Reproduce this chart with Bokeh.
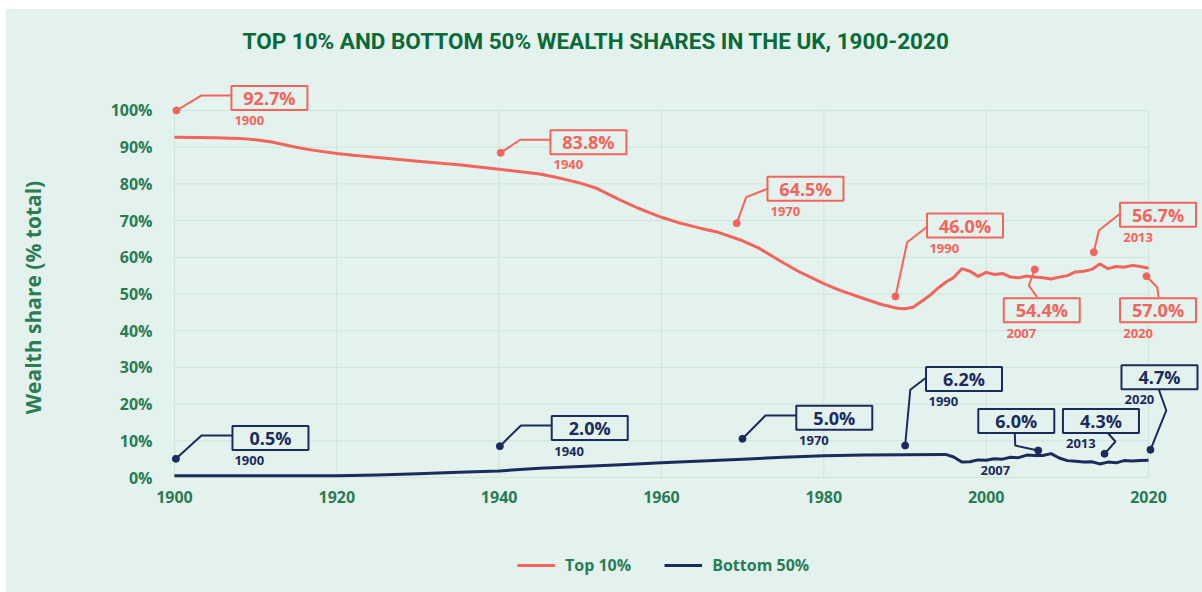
from bokeh.plotting import figure
from bokeh.models import Range1d, FixedTicker, PrintfTickFormatter, Legend, LegendItem, Spacer
from bokeh.layouts import column, row
from bokeh.core.properties import value
from bokeh.embed import file_html
from bokeh.resources import INLINE

# ---------------- data ----------------
title_text = "TOP 10% AND BOTTOM 50% WEALTH SHARES IN THE UK, 1900-2020"

top_years = [1900, 1905, 1908, 1910, 1912, 1915, 1917, 1920, 1922, 1925, 1930, 1935, 1940, 1945,
             1947, 1950, 1952, 1955, 1957, 1960, 1962, 1965, 1967, 1970, 1972, 1975, 1977, 1980,
             1982, 1985, 1987, 1989, 1990, 1991, 1993, 1994, 1995, 1996, 1997, 1998, 1999, 2000,
             2001, 2002, 2003, 2004, 2005, 2006, 2007, 2008, 2009, 2010, 2011, 2012, 2013, 2014,
             2015, 2016, 2017, 2018, 2019, 2020]
top_share = [92.7, 92.6, 92.4, 92.0, 91.4, 90.0, 89.2, 88.3, 87.8, 87.2, 86.2, 85.2, 84.0, 82.7,
             81.8, 80.2, 78.8, 75.5, 73.5, 70.9, 69.5, 67.8, 66.8, 64.5, 62.5, 58.5, 56.0, 52.8,
             51.0, 48.7, 47.2, 46.1, 46.0, 46.4, 49.5, 51.5, 53.2, 54.5, 56.9, 56.2, 54.8, 55.9,
             55.3, 55.6, 54.6, 54.4, 54.9, 54.6, 54.4, 54.1, 54.6, 55.0, 56.0, 56.2, 56.7, 58.2,
             56.9, 57.5, 57.3, 57.8, 57.5, 57.0]

bottom_years = [1900, 1910, 1920, 1925, 1930, 1935, 1940, 1945, 1950, 1955, 1960, 1965, 1970,
                1975, 1980, 1985, 1990, 1995, 1996, 1997, 1998, 1999, 2000, 2001, 2002, 2003,
                2004, 2005, 2006, 2007, 2008, 2009, 2010, 2011, 2012, 2013, 2014, 2015, 2016,
                2017, 2018, 2019, 2020]
bottom_share = [0.5, 0.5, 0.5, 0.7, 1.0, 1.4, 1.8, 2.5, 3.0, 3.5, 4.0, 4.5, 5.0,
                5.5, 5.9, 6.1, 6.2, 6.3, 5.6, 4.2, 4.3, 4.8, 4.7, 5.1, 5.0, 5.5,
                5.4, 6.1, 6.0, 6.0, 6.5, 5.3, 4.6, 4.4, 4.2, 4.3, 3.7, 4.2, 4.0,
                4.6, 4.5, 4.6, 4.7]

x_ticks = [1900, 1920, 1940, 1960, 1980, 2000, 2020]
y_ticks = [0, 10, 20, 30, 40, 50, 60, 70, 80, 90, 100]

callout_years = ["1900", "1940", "1970", "1990", "2007", "2013", "2020"]
top_callout_values = ["92.7%", "83.8%", "64.5%", "46.0%", "54.4%", "56.7%", "57.0%"]
bottom_callout_values = ["0.5%", "2.0%", "5.0%", "6.2%", "6.0%", "4.3%", "4.7%"]

series_names = ["Top 10%", "Bottom 50%"]

# ---------------- callout layout (positions in data units) ----------------
top_dot_x = [1900.25, 1940.19, 1969.27, 1988.83, 2005.99, 2013.26, 2019.75]
top_dot_y = [100.0, 88.47, 69.29, 49.32, 56.68, 61.39, 54.85]
top_conn_x = [[1900.25, 1903.33, 1907.02], [1940.19, 1942.59, 1946.32], [1969.27, 1970.44, 1973.05],
              [1988.83, 1990.27, 1992.65], [2005.99, 2005.25, 2006.28], [2013.26, 2013.88, 2016.55],
              [2019.75, 2021.07, 2021.24]]
top_conn_y = [[100.0, 104.09, 104.09], [88.47, 92.02, 92.02], [69.29, 76.38, 78.66],
              [49.32, 64.11, 68.20], [56.68, 52.32, 49.13], [61.39, 67.30, 72.02],
              [54.85, 51.85, 49.13]]
top_box_x = [1911.70, 1951.00, 1977.74, 1997.39, 2006.85, 2021.17, 2021.17]
top_box_y = [103.41, 91.36, 78.66, 68.66, 45.59, 71.61, 45.59]
top_year_x = [1907.39, 1946.69, 1973.43, 1993.01, 2002.50, 2016.88, 2016.88]
top_year_y = [97.28, 85.20, 72.48, 62.32, 39.32, 65.31, 39.32]

bot_dot_x = [1900.18, 1940.09, 1969.98, 1990.02, 2006.41, 2014.58, 2020.24]
bot_dot_y = [5.10, 8.53, 10.54, 8.72, 7.36, 6.46, 7.55]
bot_conn_x = [[1900.18, 1903.33, 1907.08], [1940.09, 1942.69, 1946.45], [1969.98, 1972.81, 1976.60],
              [1990.02, 1990.65, 1992.58], [2003.52, 2003.58, 2006.38], [2014.90, 2015.93, 2014.58],
              [2021.24, 2022.19, 2020.24]]
bot_conn_y = [[5.10, 11.44, 11.44], [8.53, 14.17, 14.17], [10.54, 16.89, 16.89],
              [8.72, 23.90, 27.17], [12.34, 8.72, 7.36], [12.34, 9.81, 6.46],
              [24.17, 18.26, 7.55]]
bot_box_x = [1911.83, 1951.16, 1981.29, 1997.27, 2003.71, 2014.14, 2021.35]
bot_box_y = [10.76, 13.49, 16.29, 26.84, 15.40, 15.40, 27.33]
bot_year_x = [1907.39, 1946.79, 1976.95, 1992.89, 1999.30, 2009.83, 2017.05]
bot_year_y = [4.55, 7.17, 10.08, 20.71, 1.91, 9.18, 21.17]

# ---------------- styles ----------------
BG = "#e3f2ec"
GRID = "#cde6da"
RED = "#f4645c"
NAVY = "#1c2b5e"
TITLE_GREEN = "#0b6a3a"
TEXT_GREEN = "#2a7c55"
FONT = "Open Sans"


def strip(height, y_range):
    f = figure(width=1196, height=height, output_backend="svg", toolbar_location=None,
               x_range=Range1d(0, 1), y_range=y_range, x_axis_type=None, y_axis_type=None,
               min_border_left=0, min_border_right=0, min_border_top=0, min_border_bottom=0)
    f.background_fill_color = None
    f.border_fill_color = BG
    f.outline_line_color = None
    f.grid.visible = False
    return f


# ---------------- title strip ----------------
t = strip(56, Range1d(0, 1))
t.text(x=[0], y=[0.4464], text=[title_text], x_offset=92, text_align="left", text_baseline="middle",
       text_font=value("Roboto"), text_font_style="bold", text_font_size="22.5px",
       text_color=TITLE_GREEN)

# ---------------- main chart ----------------
p = figure(width=1196, height=472, output_backend="svg", toolbar_location=None,
           x_range=Range1d(1897.05, 2026.65), y_range=Range1d(-10.08, 108.17),
           min_border_left=144, min_border_right=0, min_border_top=15, min_border_bottom=23)
p.background_fill_color = BG
p.border_fill_color = BG
p.outline_line_color = None
p.xgrid.visible = False
p.ygrid.visible = False

xa = p.xaxis[0]
xa.ticker = FixedTicker(ticks=x_ticks)
xa.bounds = (1900, 2020)
xa.fixed_location = 0
xa.axis_line_color = None
xa.major_tick_line_color = None
xa.minor_tick_line_color = None
xa.major_label_standoff = 7
xa.major_label_text_font = FONT
xa.major_label_text_font_style = "bold"
xa.major_label_text_font_size = "16px"
xa.major_label_text_color = TEXT_GREEN

ya = p.yaxis[0]
ya.ticker = FixedTicker(ticks=y_ticks)
ya.bounds = (0, 100)
ya.formatter = PrintfTickFormatter(format="%d%%")
ya.axis_line_color = None
ya.major_tick_line_color = None
ya.minor_tick_line_color = None
ya.major_label_standoff = -8
ya.major_label_text_font = FONT
ya.major_label_text_font_style = "bold"
ya.major_label_text_font_size = "16px"
ya.major_label_text_color = TEXT_GREEN
ya.axis_label = "Wealth share (% total)"
ya.axis_label_text_font = FONT
ya.axis_label_text_font_style = "bold"
ya.axis_label_text_font_size = "21px"
ya.axis_label_text_color = TEXT_GREEN
ya.axis_label_standoff = 61

# grid lines limited to the data area
p.segment(x0=x_ticks, x1=x_ticks, y0=[y_ticks[0]] * len(x_ticks), y1=[y_ticks[-1]] * len(x_ticks),
          line_color=GRID, line_width=1)
p.segment(x0=[x_ticks[0]] * len(y_ticks), x1=[x_ticks[-1]] * len(y_ticks), y0=y_ticks, y1=y_ticks,
          line_color=GRID, line_width=1)

# series
r_top = p.line(top_years, top_share, line_color=RED, line_width=3, line_join="round")
r_bot = p.line(bottom_years, bottom_share, line_color=NAVY, line_width=3, line_join="round")


def callouts(color, dot_x, dot_y, conn_x, conn_y, box_x, box_y, year_x, year_y, vals):
    p.multi_line(conn_x, conn_y, line_color=color, line_width=2)
    p.scatter(dot_x, dot_y, size=7, fill_color=color, line_color=color)
    p.rect(box_x, box_y, width=76, height=24, width_units="screen", height_units="screen",
           fill_color=BG, line_color=color, line_width=2)
    p.text(box_x, box_y, text=vals, text_align="center", text_baseline="middle",
           text_font=value(FONT), text_font_style="bold", text_font_size="18px", text_color=color)
    p.text(year_x, year_y, text=callout_years, text_align="left", text_baseline="middle",
           text_font=value(FONT), text_font_style="bold", text_font_size="13px", text_color=color)


callouts(RED, top_dot_x, top_dot_y, top_conn_x, top_conn_y, top_box_x, top_box_y,
         top_year_x, top_year_y, top_callout_values)
callouts(NAVY, bot_dot_x, bot_dot_y, bot_conn_x, bot_conn_y, bot_box_x, bot_box_y,
         bot_year_x, bot_year_y, bottom_callout_values)

# ---------------- legend strip (series kept out of view, only the legend shows) ----------------
q = strip(55, Range1d(-3, -2))
lt = q.line(top_years, top_share, line_color=RED, line_width=3)
lb = q.line(bottom_years, bottom_share, line_color=NAVY, line_width=3)

legend = Legend(items=[LegendItem(label=series_names[0], renderers=[lt]),
                       LegendItem(label=series_names[1], renderers=[lb])],
                orientation="horizontal", location=(367, 16))
legend.padding = 0
legend.margin = 0
legend.spacing = 33
legend.glyph_width = 38
legend.label_standoff = 10
legend.border_line_color = None
legend.background_fill_alpha = 0
legend.label_text_font = FONT
legend.label_text_font_style = "bold"
legend.label_text_font_size = "16px"
legend.label_text_color = TEXT_GREEN
q.add_layout(legend, "center")

inner = column(t, p, q, spacing=0, styles={"background-color": BG})
layout = column(Spacer(height=9), row(Spacer(width=6), inner))
open("out.html", "w").write(file_html(layout, INLINE))
